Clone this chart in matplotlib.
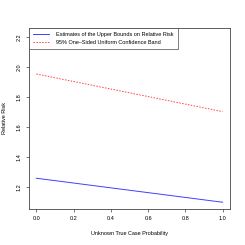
import matplotlib

matplotlib.use("Agg")
import matplotlib.pyplot as plt

# Data
prob = [0.0, 1.0]
upper_bound = [1.258, 1.098]
conf_band = [1.953, 1.702]

x_ticks = [0.0, 0.2, 0.4, 0.6, 0.8, 1.0]
y_ticks = [1.2, 1.4, 1.6, 1.8, 2.0, 2.2]

plt.rcParams["font.family"] = ["Liberation Sans", "DejaVu Sans"]

fig = plt.figure(figsize=(2.45, 2.45), dpi=100)
ax = fig.add_axes([0.118, 0.147, 0.821, 0.739])

ax.plot(prob, upper_bound, color="#4040ff", lw=0.7,
        label="Estimates of the Upper Bounds on Relative Risk")
ax.plot(prob, conf_band, color="#ff4040", lw=0.7, linestyle=(0, (1.5, 1.5)),
        label="95% One\u2013Sided Uniform Confidence Band")

ax.set_xlim(-0.04, 1.04)
ax.set_ylim(1.053, 2.26)
ax.set_xticks(x_ticks)
ax.set_xticklabels([f"{v:.1f}" for v in x_ticks])
ax.set_yticks(y_ticks)
ax.set_yticklabels([f"{v:.1f}" for v in y_ticks], rotation=90, va="center")
ax.tick_params(labelsize=4, length=2.2, width=0.5, pad=3, color="#444444")

for s in ax.spines.values():
    s.set_linewidth(0.6)
    s.set_color("#444444")

ax.set_xlabel("Unknown True Case Probability", fontsize=4, labelpad=7)
ax.set_ylabel("Relative Risk", fontsize=4, labelpad=7)

leg = ax.legend(loc="upper left", fontsize=4, frameon=True, fancybox=False,
                borderaxespad=0, handlelength=3.0, handletextpad=1.2,
                borderpad=0.7, labelspacing=0.6)
leg.get_frame().set_edgecolor("#444444")
leg.get_frame().set_linewidth(0.6)

fig.savefig("out.png", dpi=100)
plt.close(fig)
